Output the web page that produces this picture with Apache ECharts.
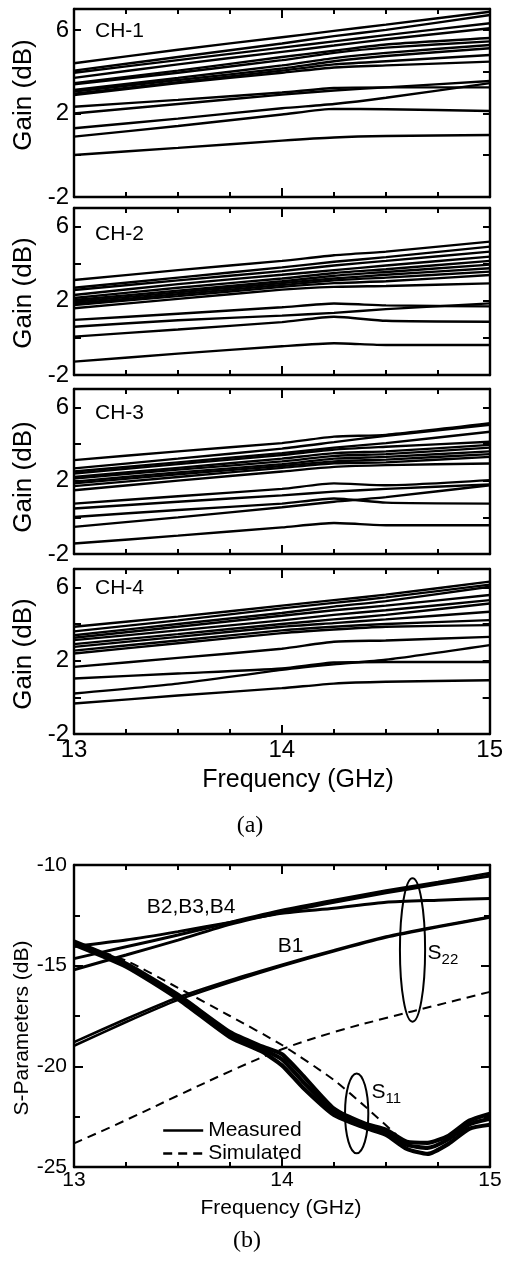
<!DOCTYPE html>
<html><head><meta charset="utf-8">
<script src="https://cdn.jsdelivr.net/npm/echarts@6/dist/echarts.min.js"></script>
<style>html,body{margin:0;padding:0;background:#fff}#c{width:506px;height:1267px}</style>
</head><body><div id="c"></div>
<script>
// ---------- DATA ----------
const freqA = [13, 13.5, 14, 14.25, 14.5, 15];
const ch1 = [
  [4.40, 5.05, 5.65, 5.95, 6.25, 6.87],
  [4.05, 4.70, 5.35, 5.70, 6.00, 6.71],
  [3.95, 4.55, 5.15, 5.45, 5.75, 6.32],
  [3.70, 4.35, 4.95, 5.25, 5.55, 6.08],
  [3.45, 4.05, 4.70, 5.00, 5.30, 5.61],
  [3.40, 3.95, 4.55, 4.90, 5.15, 5.45],
  [3.12, 3.70, 4.30, 4.65, 4.90, 5.28],
  [3.05, 3.60, 4.15, 4.50, 4.75, 5.12],
  [2.95, 3.50, 4.05, 4.35, 4.50, 4.80],
  [2.88, 3.45, 3.95, 4.20, 4.30, 4.48],
  [2.32, 2.65, 3.00, 3.22, 3.25, 3.25],
  [2.00, 2.45, 2.90, 3.10, 3.25, 3.55],
  [1.29, 1.75, 2.25, 2.45, 2.75, 3.45],
  [0.89, 1.40, 1.95, 2.22, 2.20, 2.12],
  [0.01, 0.35, 0.70, 0.85, 0.92, 0.97]
];
const ch2 = [
  [3.12, 3.65, 4.15, 4.45, 4.65, 5.19],
  [2.70, 3.25, 3.80, 4.10, 4.35, 4.92],
  [2.58, 3.10, 3.60, 3.90, 4.15, 4.65],
  [2.31, 2.90, 3.40, 3.65, 3.90, 4.38],
  [2.15, 2.70, 3.20, 3.50, 3.70, 4.15],
  [2.04, 2.55, 3.05, 3.35, 3.55, 3.95],
  [1.95, 2.45, 2.95, 3.20, 3.40, 3.75],
  [1.85, 2.35, 2.85, 3.10, 3.25, 3.57],
  [1.77, 2.25, 2.75, 2.95, 3.05, 3.39],
  [1.60, 2.10, 2.60, 2.75, 2.80, 2.94],
  [0.97, 1.30, 1.65, 1.85, 1.75, 1.70],
  [0.60, 0.95, 1.20, 1.35, 1.55, 1.86],
  [0.07, 0.45, 0.85, 1.14, 0.92, 0.87],
  [-1.28, -0.85, -0.45, -0.29, -0.38, -0.38]
];
const ch3 = [
  [3.12, 3.60, 4.05, 4.40, 4.50, 5.13],
  [2.67, 3.20, 3.75, 4.10, 4.45, 5.05],
  [2.50, 3.00, 3.50, 3.80, 4.05, 4.67],
  [2.39, 2.90, 3.40, 3.70, 3.85, 4.12],
  [2.20, 2.70, 3.20, 3.50, 3.60, 3.95],
  [2.12, 2.60, 3.05, 3.35, 3.45, 3.80],
  [1.95, 2.45, 2.90, 3.20, 3.30, 3.60],
  [1.85, 2.35, 2.80, 3.05, 3.15, 3.45],
  [1.70, 2.20, 2.70, 2.95, 3.00, 3.30],
  [1.48, 2.00, 2.50, 2.75, 2.85, 2.94],
  [0.75, 1.15, 1.55, 1.85, 1.75, 2.03],
  [0.48, 0.85, 1.20, 1.40, 1.55, 1.80],
  [0.02, 0.40, 0.75, 1.03, 0.80, 0.75],
  [-0.52, 0.00, 0.55, 0.85, 1.10, 1.75],
  [-1.43, -1.00, -0.55, -0.31, -0.43, -0.43]
];
const ch4 = [
  [3.85, 4.40, 5.00, 5.30, 5.60, 6.31],
  [3.60, 4.20, 4.85, 5.15, 5.45, 6.15],
  [3.39, 4.00, 4.60, 4.95, 5.25, 6.03],
  [3.25, 3.85, 4.45, 4.75, 5.00, 5.58],
  [3.12, 3.65, 4.20, 4.50, 4.75, 5.30],
  [2.90, 3.45, 4.00, 4.25, 4.50, 5.12],
  [2.75, 3.30, 3.85, 4.05, 4.25, 4.67],
  [2.55, 3.10, 3.65, 3.85, 4.00, 4.21],
  [2.39, 2.95, 3.50, 3.70, 3.85, 3.94],
  [1.66, 2.15, 2.65, 3.03, 3.10, 3.30],
  [1.03, 1.30, 1.57, 1.90, 1.93, 1.93],
  [0.21, 0.75, 1.50, 1.80, 2.05, 2.85],
  [-0.34, 0.10, 0.50, 0.75, 0.85, 0.93]
];
const channelNames = ['CH-1', 'CH-2', 'CH-3', 'CH-4'];

const freqS11 = [13, 13.25, 13.5, 13.75, 13.9, 14, 14.1, 14.25, 14.4, 14.5, 14.6, 14.7, 14.8, 14.9, 15];
const s11Meas = [
  [-13.80, -14.90, -16.45, -18.30, -19.00, -19.40, -20.45, -22.10, -22.85, -23.15, -23.75, -23.80, -23.45, -22.70, -22.35],
  [-13.88, -14.98, -16.55, -18.42, -19.12, -19.65, -20.75, -22.25, -22.95, -23.28, -23.90, -24.05, -23.62, -22.88, -22.60],
  [-13.95, -15.05, -16.65, -18.55, -19.25, -19.95, -21.05, -22.42, -23.05, -23.40, -24.10, -24.35, -23.85, -23.10, -22.90]
];
const freqS11Sim = [13, 13.25, 13.5, 13.75, 14, 14.25, 14.4, 14.55];
const s11Sim = [-13.85, -14.75, -16.10, -17.50, -18.94, -20.68, -22.00, -23.40];
const freqS22 = [13, 13.25, 13.5, 13.75, 14, 14.25, 14.5, 14.75, 15];
const s22B1 = [
  [-18.80, -17.65, -16.58, -15.72, -14.95, -14.23, -13.55, -13.04, -12.57],
  [-18.98, -17.80, -16.70, -15.82, -15.02, -14.28, -13.60, -13.08, -12.60]
];
const s22B234 = [
  [-14.05, -13.73, -13.31, -12.85, -12.40, -12.15, -11.85, -11.75, -11.66],
  [-14.65, -14.06, -13.48, -12.85, -12.25, -11.75, -11.28, -10.85, -10.41],
  [-15.20, -14.47, -13.73, -12.95, -12.35, -11.85, -11.38, -10.95, -10.55]
];
const s22Sim = [-23.83, -22.67, -21.45, -20.25, -19.15, -18.30, -17.60, -16.95, -16.30];

const gainLabels = [-2, 2, 6];
const sparLabels = [-25, -20, -15, -10];
const freqLabels = [13, 14, 15];

// ---------- CHART ----------
const FONT = '"Liberation Sans", Arial, Helvetica, sans-serif';
const SERIF = '"Liberation Serif", "Times New Roman", serif';
const grids = [
  {left: 74, top: 9, width: 416, height: 188},
  {left: 74, top: 208, width: 416, height: 167},
  {left: 74, top: 389, width: 416, height: 165},
  {left: 74, top: 569, width: 416, height: 165},
  {left: 74, top: 865, width: 416, height: 302}
];
const blk = '#000';
const xAxes = [], yAxes = [], series = [];
grids.forEach((g, i) => {
  const isB = i === 4;
  const showX = i >= 3;
  ['bottom', 'top'].forEach((pos, k) => {
    xAxes.push({
      type: 'value', gridIndex: i, position: pos, min: 13, max: 15, interval: 1,
      axisLine: {onZero: false, lineStyle: {color: blk, width: 2.4}},
      axisTick: {inside: true, length: 9, lineStyle: {color: blk, width: 2}},
      minorTick: {show: true, splitNumber: 4, length: 5, lineStyle: {color: blk, width: 2}},
      splitLine: {show: false},
      axisLabel: {
        show: showX && k === 0, color: blk, fontFamily: FONT,
        fontSize: isB ? 21 : 24, margin: isB ? 3 : 4,
        formatter: v => freqLabels.includes(v) ? String(v) : ''
      }
    });
  });
  ['left', 'right'].forEach((pos, k) => {
    yAxes.push(isB ? {
      type: 'value', gridIndex: i, position: pos, min: -25, max: -10, interval: 5,
      axisLine: {onZero: false, lineStyle: {color: blk, width: 2.4}},
      axisTick: {inside: true, length: 9, lineStyle: {color: blk, width: 2}},
      minorTick: {show: true, splitNumber: 2, length: 6, lineStyle: {color: blk, width: 2}},
      splitLine: {show: false},
      axisLabel: {show: k === 0, color: blk, fontFamily: FONT, fontSize: 21, margin: 7,
        formatter: v => sparLabels.includes(v) ? String(v) : ''}
    } : {
      type: 'value', gridIndex: i, position: pos, min: -2, max: 7, interval: 2,
      axisLine: {onZero: false, lineStyle: {color: blk, width: 2.4}},
      axisTick: {inside: true, length: 7, lineStyle: {color: blk, width: 2}},
      splitLine: {show: false},
      axisLabel: {show: k === 0, color: blk, fontFamily: FONT, fontSize: 24, margin: 5,
        formatter: v => gainLabels.includes(v) ? String(v) : ''}
    });
  });
});

function pairs(xs, ys) { return xs.map((x, j) => [x, ys[j]]); }
function addLine(i, xs, ys, opts) {
  series.push(Object.assign({
    type: 'line', xAxisIndex: 2 * i, yAxisIndex: 2 * i,
    data: pairs(xs, ys), symbol: 'none', smooth: 0.2, silent: true,
    lineStyle: {color: blk, width: 2.4}, itemStyle: {color: blk}, z: 3
  }, opts || {}));
}
[ch1, ch2, ch3, ch4].forEach((ch, i) => ch.forEach(ys => addLine(i, freqA, ys)));

s22B234.forEach(ys => addLine(4, freqS22, ys, {name: 'Measured', lineStyle: {color: blk, width: 3}}));
s22B1.forEach(ys => addLine(4, freqS22, ys, {name: 'Measured', lineStyle: {color: blk, width: 2.6}}));
s11Meas.forEach(ys => addLine(4, freqS11, ys, {name: 'Measured', smooth: 0.2, lineStyle: {color: blk, width: 4.2}}));
addLine(4, freqS11Sim, s11Sim, {name: 'Simulated', lineStyle: {color: blk, width: 2, type: [9, 6]}});
addLine(4, freqS22, s22Sim, {name: 'Simulated', smooth: 0.35, lineStyle: {color: blk, width: 2, type: [9, 6]}});

const option = {
  animation: false,
  backgroundColor: '#fff',
  grid: grids.map(g => Object.assign({containLabel: false}, g)),
  xAxis: xAxes, yAxis: yAxes, series: series,
  legend: {
    data: ['Measured', 'Simulated'], orient: 'vertical', left: 157, top: 1115,
    itemWidth: 40, itemHeight: 12, itemGap: 2, selectedMode: false,
    itemStyle: {opacity: 0, borderWidth: 0},
    lineStyle: {width: 2.4},
    textStyle: {fontSize: 21, fontFamily: FONT, color: blk, lineHeight: 21}
  }
};
const chart = echarts.init(document.getElementById('c'), null, {renderer: 'canvas'});
chart.setOption(option);

// ---------- ANNOTATIONS ----------
const P = (x, y) => chart.convertToPixel({xAxisIndex: 8, yAxisIndex: 8}, [x, y]);
const txt = (x, y, text, size, extra) => Object.assign({
  type: 'text', x: x, y: y, silent: true, z: 10,
  style: Object.assign({text: text, fill: blk, font: size + 'px ' + FONT, textAlign: 'left', textVerticalAlign: 'middle'}, extra || {})
});
const g = [];
const chY = [31, 234, 413, 588];
channelNames.forEach((n, i) => g.push(txt(95, chY[i], n, 21)));
const gainY = [95, 293, 477, 654];
gainY.forEach(y => g.push(Object.assign(txt(24, y, 'Gain (dB)', 26, {textAlign: 'center'}), {rotation: Math.PI / 2})));
g.push(txt(298, 780, 'Frequency (GHz)', 25, {textAlign: 'center'}));
g.push({type: 'text', x: 250, y: 826, silent: true, style: {text: '(a)', fill: blk, font: '24px ' + SERIF, textAlign: 'center', textVerticalAlign: 'middle'}});
g.push(Object.assign(txt(22, 1028, 'S-Parameters (dB)', 21, {textAlign: 'center'}), {rotation: Math.PI / 2}));
g.push(txt(281, 1208, 'Frequency (GHz)', 21, {textAlign: 'center'}));
g.push({type: 'text', x: 247, y: 1241, silent: true, style: {text: '(b)', fill: blk, font: '24px ' + SERIF, textAlign: 'center', textVerticalAlign: 'middle'}});

let p = P(13.35, -12.09); g.push(txt(p[0], p[1], 'B2,B3,B4', 21));
p = P(13.98, -14.03); g.push(txt(p[0], p[1], 'B1', 21));
p = P(14.70, -14.37); g.push(txt(p[0], p[1], 'S', 21)); g.push(txt(p[0] + 14, p[1] + 7, '22', 15));
p = P(14.43, -21.28); g.push(txt(p[0], p[1], 'S', 21)); g.push(txt(p[0] + 14, p[1] + 7, '11', 15));
function ell(x0, x1, y0, y1) {
  const a = P(x0, y0), b = P(x1, y1);
  g.push({type: 'ellipse', silent: true, z: 10,
    shape: {cx: (a[0] + b[0]) / 2, cy: (a[1] + b[1]) / 2, rx: Math.abs(b[0] - a[0]) / 2, ry: Math.abs(b[1] - a[1]) / 2},
    style: {fill: 'none', stroke: blk, lineWidth: 2}});
}
ell(14.567, 14.688, -10.66, -17.78);
ell(14.303, 14.415, -20.35, -24.32);
chart.setOption({graphic: g});
</script></body></html>
